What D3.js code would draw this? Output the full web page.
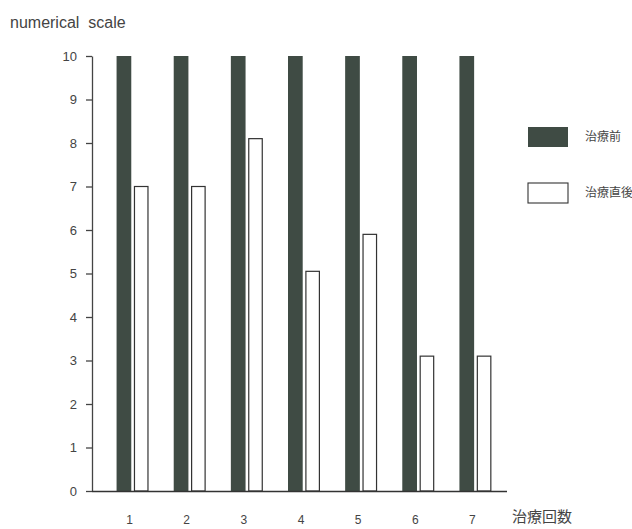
<!DOCTYPE html>
<html>
<head>
<meta charset="utf-8">
<script src="https://cdn.jsdelivr.net/npm/d3@7"></script>
<style>
  body { margin: 0; background: #fff; }
  svg { display: block; font-family: "Liberation Sans", Arial, sans-serif; }
</style>
</head>
<body>
<svg id="chart" width="632" height="529"></svg>
<script>
const categories = ["1", "2", "3", "4", "5", "6", "7"];
const seriesNames = ["治療前", "治療直後"];
const beforeValues = [10, 10, 10, 10, 10, 10, 10];
const afterValues = [7.0, 7.0, 8.1, 5.05, 5.9, 3.1, 3.1];
const yTicks = [0, 1, 2, 3, 4, 5, 6, 7, 8, 9, 10];
const yTitle = "numerical  scale";
const xTitle = "治療回数";

const svg = d3.select("#chart");
const darkFill = "#3f4b44";
const textColor = "#444";

const axisX0 = 92, axisX1 = 507;
const y = d3.scaleLinear().domain([0, 10]).range([491, 56]);
const x = d3.scaleBand().domain(categories).range([104, 504]).padding(0);
const x1 = d3.scaleBand().domain(seriesNames).range([0, 32]).paddingInner(0.15);
const groupOffset = (x.bandwidth() - 32) / 2;

const data = categories.map((c, i) => ({
  cat: c,
  vals: [
    { key: seriesNames[0], v: beforeValues[i] },
    { key: seriesNames[1], v: afterValues[i] }
  ]
}));

// bars
const g = svg.append("g");
const groups = g.selectAll("g.grp").data(data).join("g")
  .attr("class", "grp")
  .attr("transform", d => `translate(${x(d.cat) + groupOffset},0)`);
groups.selectAll("rect").data(d => d.vals).join("rect")
  .attr("x", d => x1(d.key) + (d.key === seriesNames[1] ? 0.6 : 0))
  .attr("y", d => y(d.v))
  .attr("width", d => x1.bandwidth() - (d.key === seriesNames[1] ? 1.2 : 0))
  .attr("height", d => y(0) - y(d.v))
  .attr("fill", d => d.key === seriesNames[0] ? darkFill : "#fff")
  .attr("stroke", d => d.key === seriesNames[0] ? "none" : "#333")
  .attr("stroke-width", 1.2);

// y axis
const yAxis = svg.append("g")
  .attr("transform", `translate(${axisX0},0)`)
  .call(d3.axisLeft(y).tickValues(yTicks).tickFormat(d3.format("d")).tickSize(6).tickSizeOuter(0).tickPadding(9));
yAxis.select(".domain").attr("stroke", "#444").attr("stroke-width", 1.3);
yAxis.selectAll(".tick line").attr("stroke", "#444").attr("stroke-width", 1.3);
yAxis.selectAll(".tick text").attr("fill", textColor).attr("font-size", 13)
  .attr("font-family", "'Liberation Sans', Arial, sans-serif");

// x axis baseline
const xAxis = svg.append("g")
  .attr("transform", `translate(0,${y(0)})`)
  .call(d3.axisBottom(x).tickSize(0).tickPadding(24));
xAxis.select(".domain").attr("d", `M${axisX0},0.5H${axisX1}`).attr("stroke", "#333").attr("stroke-width", 1.4);
xAxis.selectAll(".tick text").attr("fill", textColor).attr("font-size", 12)
  .attr("dx", -3)
  .attr("font-family", "'Liberation Sans', Arial, sans-serif");

// titles
svg.append("text").attr("x", 10).attr("y", 28)
  .attr("fill", textColor).attr("font-size", 16)
  .attr("xml:space", "preserve").style("white-space", "pre")
  .text(yTitle);
svg.append("text").attr("x", 512).attr("y", 522)
  .attr("fill", textColor).attr("font-size", 15)
  .attr("font-family", "'Noto Sans CJK JP', sans-serif")
  .text(xTitle);

// legend
const legend = svg.append("g").attr("transform", "translate(528,0)");
const legendY = [127, 183];
seriesNames.forEach((name, i) => {
  legend.append("rect")
    .attr("x", 0).attr("y", legendY[i])
    .attr("width", 40).attr("height", 20)
    .attr("fill", i === 0 ? darkFill : "#fff")
    .attr("stroke", i === 0 ? "none" : "#333")
    .attr("stroke-width", 1.1);
  legend.append("text")
    .attr("x", 57).attr("y", legendY[i] + 10)
    .attr("dy", "0.35em")
    .attr("fill", textColor).attr("font-size", 12)
    .attr("font-family", "'Noto Sans CJK JP', sans-serif")
    .text(name);
});
</script>
</body>
</html>
